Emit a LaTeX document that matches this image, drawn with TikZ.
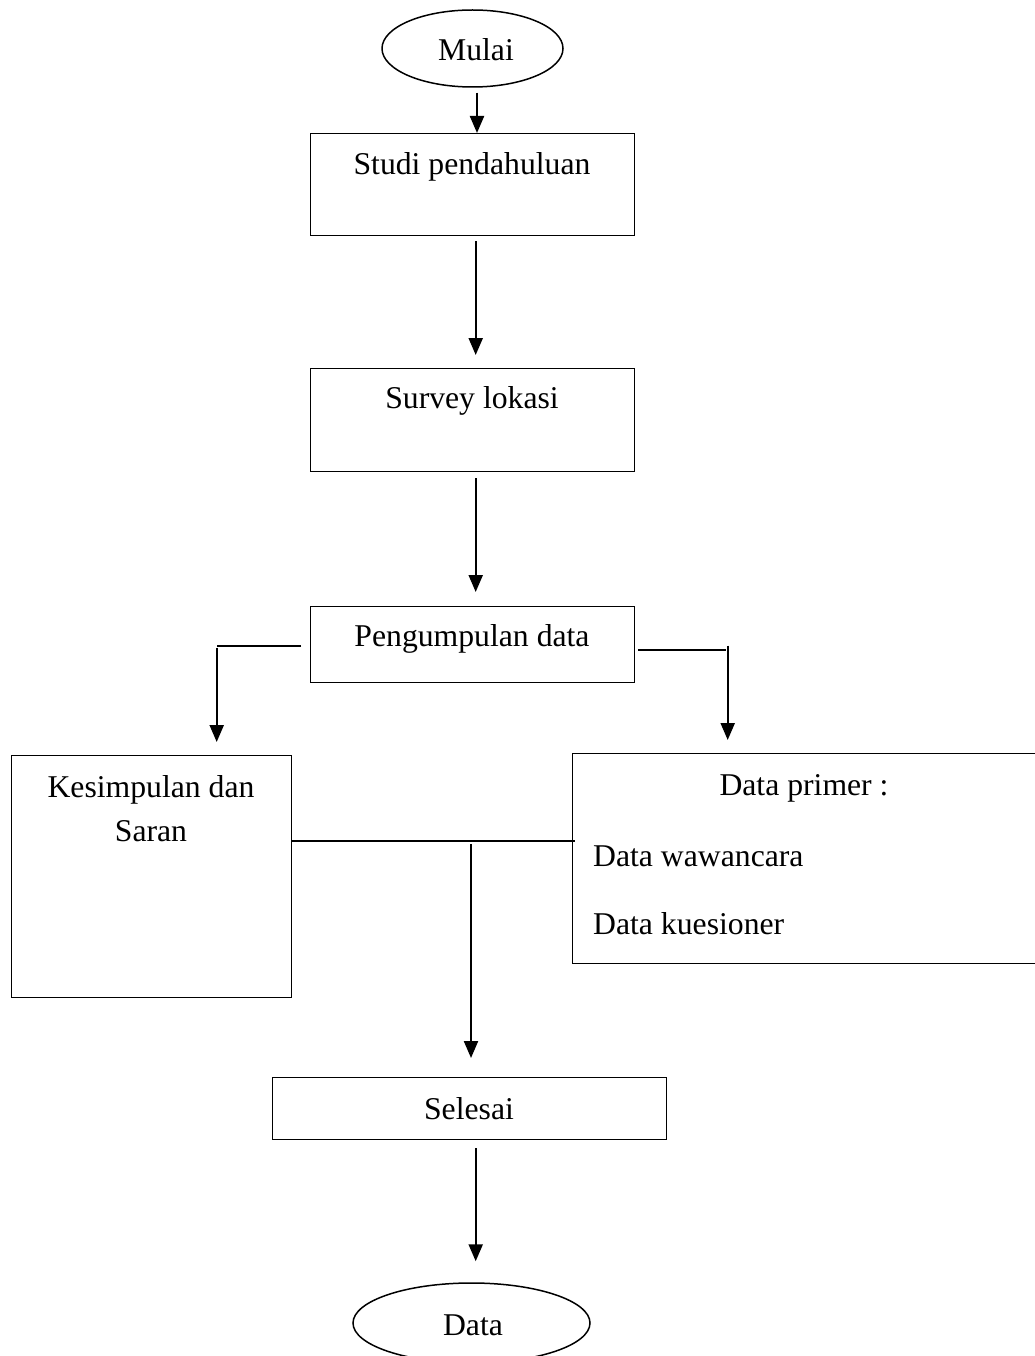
\documentclass[tikz,border=0pt]{standalone}
\usepackage{fontspec}
\setmainfont{Liberation Serif}
\usetikzlibrary{shapes.geometric,arrows.meta}
\begin{document}
\begin{tikzpicture}[x=1pt,y=-1pt,
  box/.style={draw,line width=1.4pt,rectangle,inner sep=0pt,anchor=north west},
  oval/.style={draw,line width=1.5pt,ellipse,inner sep=0pt},
  txt/.style={inner sep=0pt,font=\fontsize{31.7}{38}\selectfont},
  arr/.style={line width=2.2pt,-{Triangle[length=17pt,width=14pt]}},
  ln/.style={line width=1.8pt}]
\useasboundingbox (0,0) rectangle (1034,1356);
% nodes
\node[oval,minimum width=181pt,minimum height=77pt] (mulai) at (472.5,48.5) {};
\node[txt] (tmulai) at (476,50) {Mulai};
\node[box,minimum width=324pt,minimum height=102pt] (studi) at (310,133) {};
\node[txt] (tstudi) at (472,167) {Studi pendahuluan};
\node[box,minimum width=324pt,minimum height=103pt] (survey) at (310,368) {};
\node[txt] (tsurvey) at (472,401) {Survey lokasi};
\node[box,minimum width=324pt,minimum height=76pt] (peng) at (310,606) {};
\node[txt] (tpeng) at (472,639) {Pengumpulan data};
\node[box,minimum width=280pt,minimum height=242pt] (kes) at (11,755) {};
\node[txt] (tkes1) at (151,790) {Kesimpulan dan};
\node[txt] (tkes2) at (151,831) {Saran};
\node[box,minimum width=464pt,minimum height=210pt] (prim) at (572,753) {};
\node[txt] (tprim) at (804,788) {Data primer :};
\node[txt,anchor=west] (twaw) at (593,856) {Data wawancara};
\node[txt,anchor=west] (tkue) at (593,924) {Data kuesioner};
\node[box,minimum width=394pt,minimum height=62pt] (sel) at (272,1077) {};
\node[txt] (tsel) at (469,1109) {Selesai};
\node[oval,minimum width=237pt,minimum height=80pt] (data) at (471.5,1323) {};
\node[txt] (tdata) at (473,1325) {Data};
\coordinate (j) at (471,841);
% connectors
\draw[arr,shorten <=5pt] ([xshift=4.5pt]mulai.south) -- ([xshift=4.5pt]mulai.south |- studi.north);
\draw[arr,shorten <=5pt,shorten >=13pt] ([xshift=3pt]studi.south) -- ([xshift=3pt]survey.north);
\draw[arr,shorten <=6pt,shorten >=14pt] ([xshift=3pt]survey.south) -- ([xshift=3pt]peng.north);
\draw[ln] ([xshift=-9pt,yshift=-1pt]peng.west) -- ([xshift=65pt,yshift=-1pt]peng.west -| kes.north);
\draw[arr,shorten >=13pt] ([xshift=65pt,yshift=-3pt]peng.west -| kes.north) -- ([xshift=65pt]kes.north);
\draw[ln] ([xshift=3pt,yshift=-5pt]peng.east) -- ([xshift=-79pt,yshift=-5pt]peng.east -| prim.north);
\draw[arr,shorten >=13pt] ([xshift=-77pt,yshift=-1pt]peng.east -| prim.north) -- ([xshift=-77pt]prim.north);
\draw[ln] (kes.east |- j) -- ([xshift=3pt]prim.west |- j);
\draw[arr,shorten <=3pt,shorten >=19pt] (j) -- (j |- sel.north);
\draw[arr,shorten <=8pt,shorten >=21pt] ([xshift=6pt]sel.south) -- ([xshift=6pt]sel.south |- data.north);
\end{tikzpicture}
\end{document}
